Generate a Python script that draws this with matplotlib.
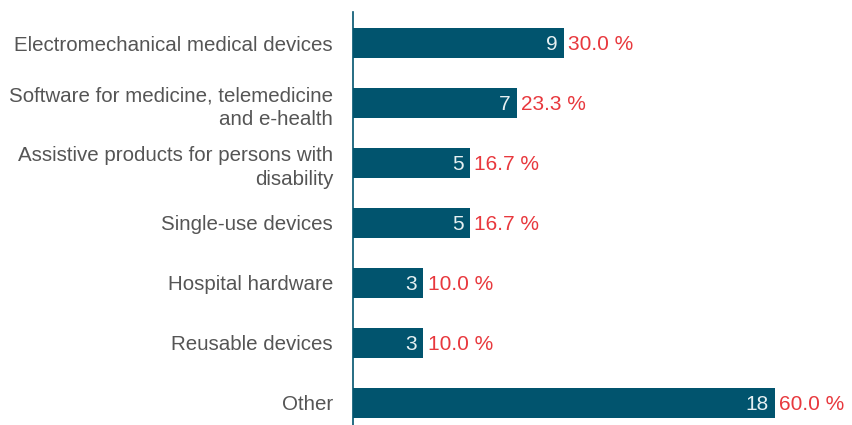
import matplotlib.pyplot as plt

# data
categories = ['Electromechanical medical devices',
              'Software for medicine, telemedicine\nand e-health',
              'Assistive products for persons with\ndisability',
              'Single-use devices',
              'Hospital hardware',
              'Reusable devices',
              'Other']
counts = [9, 7, 5, 5, 3, 3, 18]
shares = ['30.0 %', '23.3 %', '16.7 %', '16.7 %', '10.0 %', '10.0 %', '60.0 %']

bar_color = '#01546e'
red = '#e8383d'
grey = '#555555'

plt.rcParams['font.family'] = ['Liberation Sans', 'DejaVu Sans']

fig = plt.figure(figsize=(8.52, 4.25), dpi=100)
ax = fig.add_axes([352.5 / 852, 0, 1 - 352.5 / 852, 413 / 425])

ypos = list(range(len(categories)))
ax.barh(ypos, counts, height=0.5, color=bar_color)

for y, c, s in zip(ypos, counts, shares):
    ax.text(c - 0.25, y + 0.03, str(c), ha='right', va='center', color='#e6f0f2', fontsize=15)
    ax.text(c + 0.2, y + 0.03, s, ha='left', va='center', color=red, fontsize=15)

ax.set_yticks(ypos)
ax.set_yticklabels(categories, fontsize=14.8, color=grey, linespacing=1.3)
ax.tick_params(axis='y', length=0, pad=14)
for lbl in ax.get_yticklabels():
    lbl.set_horizontalalignment('right')
    lbl.set_multialignment('right')

ax.set_xlim(0, 21.3)
ax.set_ylim(6.367, -0.517)
ax.set_xticks([])
for side in ['top', 'right', 'bottom']:
    ax.spines[side].set_visible(False)
ax.spines['left'].set_color(bar_color)
ax.spines['left'].set_linewidth(1.2)

fig.savefig('out.png', dpi=100)
